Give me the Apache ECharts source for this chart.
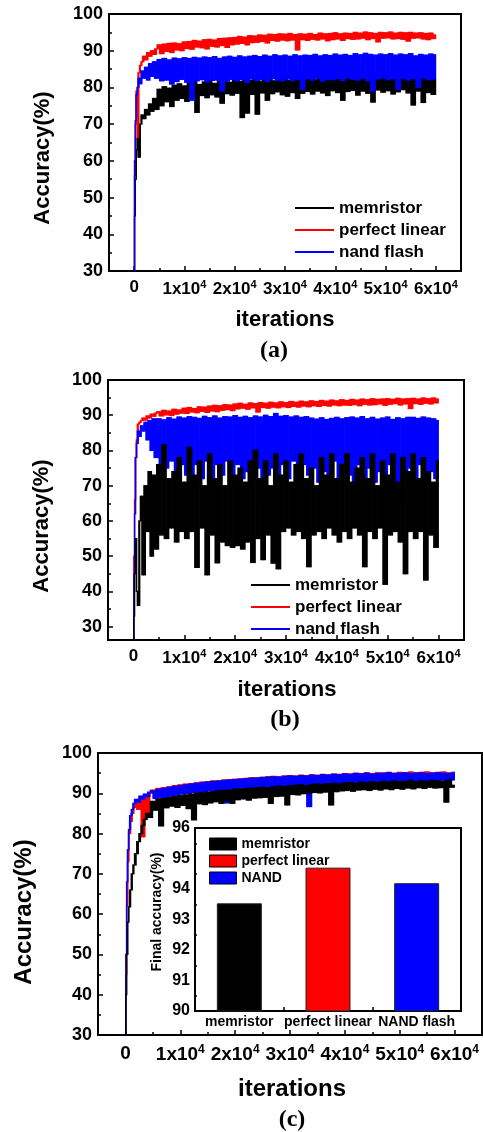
<!DOCTYPE html>
<html>
<head>
<meta charset="utf-8">
<script src="https://cdn.jsdelivr.net/npm/echarts@6/dist/echarts.min.js"></script>
<style>
  html, body { margin: 0; padding: 0; background: #fff; }
  #chart { width: 483px; height: 1132px; }
</style>
</head>
<body>
<div id="chart"></div>
<script>
// iteration sample positions shared by every curve
const iters = [
  0, 150, 300, 500, 700, 1000, 1300, 1600, 2000, 2400, 2800, 3200, 3600, 4000, 4500,
  5000, 5500, 6000, 6500, 7000, 7500, 8000, 8500, 9000, 9500,
  10000, 10500, 11000, 11500, 12000, 12500, 13000, 13500, 14000, 14500,
  15000, 15500, 16000, 16500, 17000, 17500, 18000, 18500, 19000, 19500,
  20000, 20500, 21000, 21500, 22000, 22500, 23000, 23500, 24000, 24500,
  25000, 25500, 26000, 26500, 27000, 27500, 28000, 28500, 29000, 29500,
  30000, 30500, 31000, 31500, 32000, 32500, 33000, 33500, 34000, 34500,
  35000, 35500, 36000, 36500, 37000, 37500, 38000, 38500, 39000, 39500,
  40000, 40500, 41000, 41500, 42000, 42500, 43000, 43500, 44000, 44500,
  45000, 45500, 46000, 46500, 47000, 47500, 48000, 48500, 49000, 49500,
  50000, 50500, 51000, 51500, 52000, 52500, 53000, 53500, 54000, 54500,
  55000, 55500, 56000, 56500, 57000, 57500, 58000, 58500, 59000, 59500,
  60000
]

// panel (a)
const memA = [
  30, 45, 55, 63, 66, 61, 70, 72.5, 71.5, 74, 72.5, 75.5, 73.5, 77, 74,
  79.5, 75.0, 80.2, 76.1, 79.8, 74.8, 80.6, 76.5, 81.0, 77.0,
  80.4, 76.2, 81.2, 77.5, 82.0, 73.2, 80.8, 77.8, 81.5, 77.2,
  82.3, 78.0, 81.1, 77.4, 81.8, 75.7, 82.5, 78.3, 81.4, 77.9,
  82.0, 78.4, 81.6, 71.8, 82.2, 73.0, 81.9, 78.1, 82.4, 72.7,
  81.7, 78.5, 82.6, 76.5, 82.1, 78.3, 81.8, 78.8, 82.5, 78.0,
  82.8, 77.6, 81.9, 78.6, 83.1, 77.0, 82.2, 78.4, 82.7, 78.9,
  83.4, 78.2, 82.1, 79.0, 82.9, 78.5, 83.6, 77.8, 82.4, 79.1,
  84.7, 78.6, 82.8, 76.5, 83.2, 78.9, 82.5, 79.2, 83.8, 77.9,
  84.5, 79.0, 83.0, 78.4, 84.7, 76.0, 83.3, 79.3, 82.8, 78.7,
  83.9, 79.1, 84.2, 78.2, 83.1, 78.8, 83.7, 79.4, 84.0, 78.5,
  83.2, 75.2, 83.9, 79.0, 83.4, 75.9, 84.1, 78.6, 83.0, 78.1,
  82.2
]
const linA = [
  30, 56, 70, 79, 66, 84, 86, 87, 88.5, 87.5, 89.5, 88.5, 90, 89, 90.5,
  91.6, 89.2, 91.8, 89.8, 92.0, 89.5, 92.1, 90.2, 91.9, 90.0,
  92.4, 90.6, 92.5, 90.4, 92.8, 91.0, 92.6, 90.8, 93.0, 90.5,
  93.1, 91.2, 92.9, 91.0, 93.3, 91.4, 93.4, 90.9, 93.5, 91.6,
  93.6, 91.8, 93.9, 92.0, 93.7, 91.6, 94.1, 92.2, 94.0, 92.3,
  94.3, 92.5, 94.2, 92.1, 94.5, 92.8, 94.4, 92.6, 94.6, 92.9,
  94.5, 92.7, 94.7, 92.9, 94.4, 90.2, 94.6, 93.0, 94.5, 92.8,
  94.7, 93.1, 94.4, 92.9, 94.8, 93.2, 94.6, 92.7, 94.7, 93.0,
  94.9, 93.2, 94.6, 92.8, 94.8, 93.3, 94.7, 93.1, 95.0, 93.2,
  94.8, 93.4, 95.1, 93.0, 94.9, 93.3, 94.7, 92.4, 95.0, 93.4,
  94.9, 93.5, 95.1, 93.2, 94.8, 93.3, 95.0, 93.1, 94.9, 92.6,
  95.0, 93.4, 94.8, 93.5, 94.9, 93.2, 94.7, 93.0, 94.8, 93.3,
  94.3
]
const nandA = [
  30, 60, 71, 78, 80, 82.5, 81, 84.5, 82.5, 85.5, 82, 86.5, 83, 87, 82.5,
  87.6, 81.8, 87.9, 82.0, 87.5, 80.9, 88.0, 81.6, 87.8, 82.2,
  88.1, 81.4, 87.9, 76.5, 88.2, 81.8, 88.0, 82.1, 88.3, 81.5,
  88.1, 81.9, 88.4, 82.0, 87.9, 79.0, 88.3, 81.7, 88.5, 82.2,
  88.2, 81.8, 88.6, 82.1, 88.3, 81.4, 88.5, 82.3, 88.7, 81.9,
  88.4, 82.2, 88.8, 81.6, 88.5, 82.4, 88.9, 82.0, 88.6, 81.8,
  88.8, 82.3, 88.5, 81.9, 88.9, 82.2, 88.6, 79.5, 88.8, 82.4,
  88.7, 82.0, 89.0, 82.5, 88.6, 81.7, 88.9, 82.3, 88.7, 82.1,
  89.1, 82.4, 88.8, 81.9, 89.0, 82.6, 88.7, 82.2, 89.2, 82.0,
  88.9, 82.5, 89.3, 81.8, 89.0, 79.0, 88.8, 82.3, 89.1, 82.6,
  88.9, 82.1, 89.2, 82.4, 88.8, 79.5, 89.1, 82.5, 88.9, 82.0,
  89.2, 82.4, 88.6, 80.0, 89.0, 82.6, 88.8, 82.1, 89.1, 82.3,
  88.9
]

// panel (b)
const memB = [
  26, 33, 45, 55, 40, 36, 60, 67, 44.7, 70, 57, 74, 50, 73, 52,
  76, 56, 81.6, 55, 72, 58, 74, 54, 78, 57,
  71, 55, 80.9, 57, 73, 46.8, 77, 58, 70, 44.7,
  79, 56, 72, 48.1, 76, 54, 70, 53, 77, 52.5,
  73, 53, 75, 52, 71, 54, 77, 48.2, 80.1, 55,
  72, 49, 77, 56, 70, 48, 79, 46.4, 73, 57,
  77, 58, 71, 56, 76, 57, 79, 55, 72, 47,
  75, 56, 70, 57, 78, 55, 73, 58, 79, 56,
  72, 54, 76, 57, 79, 55, 71, 58, 75, 56,
  78, 47, 72, 57, 79, 55, 70, 58, 77, 42,
  73, 56, 79, 57, 71, 54, 78, 45, 74, 57,
  79, 55, 72, 57, 78, 43.2, 74, 56, 71, 52.5,
  77
]
const linB = [
  26, 50, 66, 78, 83, 87.5, 88, 88.5, 89.2, 88.6, 89.8, 89.2, 90.3, 89.7, 90.6,
  91.0, 89.8, 91.4, 90.1, 91.2, 89.9, 91.7, 90.3, 91.5, 90.6,
  92.0, 90.5, 92.2, 90.9, 91.9, 90.7, 92.4, 91.1, 92.3, 90.8,
  92.6, 91.2, 92.8, 91.0, 92.7, 91.4, 93.0, 91.6, 92.9, 91.3,
  93.2, 91.8, 93.4, 92.0, 93.1, 91.7, 93.5, 92.1, 93.3, 90.9,
  93.6, 92.2, 93.4, 92.0, 93.7, 92.3, 93.5, 92.1, 93.8, 92.4,
  93.6, 92.2, 93.9, 92.5, 93.7, 92.3, 94.0, 92.6, 93.8, 92.4,
  94.1, 92.7, 93.9, 92.5, 94.2, 92.8, 94.0, 92.6, 94.3, 92.9,
  94.1, 92.7, 94.4, 92.9, 94.2, 92.8, 94.5, 93.0, 94.3, 92.7,
  94.6, 93.1, 94.4, 92.9, 94.7, 93.0, 94.5, 93.2, 94.6, 92.8,
  94.7, 93.1, 94.5, 93.3, 94.8, 92.9, 94.6, 93.2, 94.7, 91.9,
  94.8, 93.3, 94.6, 93.1, 94.9, 93.4, 94.7, 93.2, 94.9, 93.5,
  94.6
]
const nandB = [
  26, 45, 62, 78, 82, 85.5, 84, 87, 85.5, 88, 83, 88.5, 80, 89, 78,
  89.0, 72, 88.7, 75, 89.3, 77, 88.9, 71, 89.5, 76,
  89.2, 73, 89.6, 69.4, 89.4, 76, 89.1, 72, 89.7, 77,
  89.3, 71, 89.8, 76, 89.2, 73, 89.6, 77, 89.5, 70,
  89.9, 76, 89.4, 72, 89.7, 74, 89.3, 71, 89.8, 75,
  89.5, 65.5, 90.0, 73, 89.6, 75, 90.5, 71, 89.7, 76,
  89.9, 72, 89.5, 77, 89.8, 70, 89.4, 76, 89.6, 73,
  89.2, 75, 88.9, 71, 89.3, 74, 88.8, 72, 89.1, 77,
  89.4, 71, 89.0, 76, 89.3, 73, 89.5, 70, 89.2, 76,
  89.6, 72, 89.0, 75, 89.4, 71, 88.9, 74, 89.2, 73,
  89.5, 76, 88.8, 71, 89.3, 64.6, 89.0, 73, 89.4, 75,
  89.4, 72, 89.1, 76, 89.5, 71, 89.2, 74, 89.0, 72,
  88.5
]

// panel (c)
const memC = [
  30, 40, 50, 58, 61.8, 66, 70, 72.2, 75, 78, 80, 82, 83.5, 85, 84,
  88.0, 85.8, 88.5, 81.9, 88.7, 86.4, 89.0, 86.8, 89.2, 86.5,
  89.4, 87.0, 89.6, 86.2, 89.8, 83.4, 90.0, 87.4, 90.1, 87.2,
  90.3, 87.6, 90.4, 87.9, 90.6, 87.5, 90.7, 88.1, 90.8, 87.5,
  91.0, 88.4, 91.1, 88.6, 91.2, 88.3, 91.3, 88.8, 91.4, 88.9,
  91.5, 89.0, 91.4, 87.5, 91.6, 89.2, 91.8, 89.3, 91.7, 87.1,
  91.9, 89.7, 92.0, 89.6, 92.1, 89.9, 91.9, 90.0, 92.2, 90.2,
  92.3, 90.1, 92.2, 90.3, 92.4, 87.1, 92.5, 90.4, 92.3, 90.6,
  92.6, 90.7, 92.7, 90.5, 92.5, 90.8, 92.8, 90.9, 92.6, 90.7,
  92.9, 91.0, 92.7, 90.8, 93.0, 91.1, 92.8, 90.9, 93.1, 91.2,
  92.9, 91.0, 93.0, 91.3, 93.2, 91.1, 92.9, 91.4, 93.1, 91.2,
  93.0, 91.5, 93.2, 91.3, 93.1, 91.4, 93.0, 87.8, 93.3, 91.5,
  92.0
]
const linC = [
  30, 45, 62, 73, 80, 83, 85, 86.5, 87.5, 86, 88.5, 79.2, 89, 84, 90,
  90.8, 89.0, 91.2, 86.5, 91.4, 89.3, 91.6, 89.6, 91.9, 89.9,
  92.1, 90.1, 92.3, 90.0, 92.4, 90.4, 92.6, 90.6, 92.8, 90.3,
  92.9, 90.8, 93.1, 91.0, 93.0, 90.7, 93.3, 91.2, 93.4, 91.1,
  93.5, 91.3, 93.6, 91.5, 93.7, 91.4, 93.9, 91.6, 93.8, 91.7,
  94.0, 91.8, 94.1, 91.6, 94.2, 91.9, 94.1, 92.0, 94.3, 91.8,
  94.4, 92.1, 94.3, 92.2, 94.5, 92.0, 94.4, 92.3, 94.6, 92.2,
  94.5, 92.4, 94.7, 92.3, 94.6, 92.5, 94.8, 92.4, 94.7, 92.6,
  94.9, 92.5, 94.8, 92.7, 95.0, 92.6, 94.9, 92.8, 95.1, 92.7,
  94.9, 92.9, 95.1, 92.8, 95.0, 93.0, 95.2, 92.9, 95.0, 93.1,
  95.2, 93.0, 95.1, 93.2, 95.3, 93.1, 95.1, 93.3, 95.2, 93.2,
  95.3, 93.4, 95.1, 93.3, 95.2, 93.5, 95.3, 93.4, 95.1, 93.5,
  95.0
]
const nandC = [
  30, 50, 68, 76, 81, 84.5, 86, 87.5, 88.5, 87.8, 89.3, 88.6, 89.8, 89.2, 90.3,
  90.6, 88.7, 91.0, 89.0, 91.2, 88.9, 91.5, 89.3, 91.7, 89.5,
  91.9, 89.8, 92.1, 90.0, 92.3, 90.2, 92.5, 90.1, 92.6, 90.4,
  92.8, 90.6, 92.9, 90.5, 93.1, 90.8, 93.2, 87.6, 93.3, 91.0,
  93.4, 91.1, 93.5, 91.3, 93.6, 91.2, 93.7, 91.4, 93.8, 91.5,
  93.9, 91.6, 94.0, 91.5, 94.1, 91.7, 94.0, 91.8, 94.2, 91.7,
  94.3, 91.9, 94.2, 92.0, 94.4, 91.8, 94.3, 86.7, 94.5, 92.1,
  94.4, 92.2, 94.6, 92.1, 94.5, 92.3, 94.7, 92.2, 94.6, 92.4,
  94.8, 92.3, 94.7, 92.5, 94.9, 92.4, 94.8, 92.6, 95.0, 92.5,
  94.8, 92.7, 94.9, 92.6, 95.0, 92.8, 95.1, 92.7, 94.9, 92.9,
  95.0, 92.8, 95.1, 93.0, 94.9, 92.9, 95.0, 93.1, 95.1, 93.0,
  94.9, 93.2, 95.0, 93.1, 95.1, 93.3, 95.0, 93.2, 94.9, 93.3,
  95.2
]

// inset of panel (c)
const barCats = ['memristor', 'perfect linear', 'NAND flash']
const barNames = ['memristor', 'perfect linear', 'NAND']
const barVals = [93.53, 94.70, 94.19]

// tick positions
const xTicks = [0, 10000, 20000, 30000, 40000, 50000, 60000]
const xMinorTicks = [5000, 15000, 25000, 35000, 45000, 55000]
const yTicksB = [30, 40, 50, 60, 70, 80, 90, 100]
const yMinorTicksB = [35, 45, 55, 65, 75, 85, 95]

const SANS = 'Liberation Sans, Arial, sans-serif'
const SERIF = 'Liberation Serif, Times New Roman, serif'
const BLACK = '#000000'
const RED = '#ff0000'
const BLUE = '#0000ff'

function xMain(gi, fs, margin) {
  return {
    gridIndex: gi, type: 'value', min: -5000, max: 65000, position: 'bottom',
    axisLine: { show: true, onZero: false, lineStyle: { color: '#000', width: 2 } },
    axisTick: { show: true, inside: true, length: 5, customValues: xTicks, lineStyle: { color: '#000', width: 1.5 } },
    axisLabel: {
      customValues: xTicks,
      margin: margin,
      formatter: (v) => (v === 0 ? '{b|0}' : '{b|' + v / 10000 + 'x10}{s|4}'),
      rich: {
        b: { fontSize: fs, fontWeight: 'bold', fontFamily: SANS, color: '#000' },
        s: { fontSize: Math.round(fs * 0.62), fontWeight: 'bold', fontFamily: SANS, color: '#000', padding: [0, 0, 9, 0] },
      },
    },
    splitLine: { show: false },
  }
}

function xMinor(gi) {
  return {
    gridIndex: gi, type: 'value', min: -5000, max: 65000, position: 'bottom',
    axisLine: { show: false, onZero: false },
    axisTick: { show: true, inside: true, length: 3, customValues: xMinorTicks, lineStyle: { color: '#000', width: 1.5 } },
    axisLabel: { show: false },
    splitLine: { show: false },
  }
}

function yLabel(fs) {
  return { fontSize: fs, fontWeight: 'bold', fontFamily: SANS, color: '#000', margin: 6 }
}

const tickStyle = { color: '#000', width: 1.5 }
const yLine = { show: true, onZero: false, lineStyle: { color: '#000', width: 2 } }

// dense noisy traces: each step fills the span swept between two samples
function traceItem(params, api) {
  const x1 = api.value(0)
  const v1 = api.value(1)
  const x0 = api.value(2)
  const v0 = api.value(3)
  const top = api.coord([x0, Math.max(v0, v1)])
  const bot = api.coord([x1, Math.min(v0, v1)])
  const cs = params.coordSys
  const shape = echarts.graphic.clipRectByRect(
    { x: top[0] - 0.35, y: top[1] - 0.6, width: bot[0] - top[0] + 0.7, height: bot[1] - top[1] + 1.2 },
    { x: cs.x, y: cs.y, width: cs.width, height: cs.height }
  )
  if (!shape) return null
  return { type: 'rect', shape: shape, style: { fill: api.visual('color') } }
}

function trace(name, color, vals, idx) {
  return {
    name: name, type: 'custom', xAxisIndex: idx, yAxisIndex: idx,
    data: vals.map((v, i) => [iters[i], v, iters[Math.max(i - 1, 0)], vals[Math.max(i - 1, 0)]]),
    encode: { x: 0, y: 1 },
    renderItem: traceItem,
    itemStyle: { color: color },
  }
}

function bar(i) {
  const data = barVals.map((v, j) => (j === i ? v : '-'))
  const colors = [BLACK, RED, BLUE]
  return {
    name: barNames[i], type: 'bar', xAxisIndex: 3, yAxisIndex: 3,
    data: data, barWidth: 45, barGap: '-100%',
    itemStyle: { color: colors[i], borderColor: '#222', borderWidth: 1 },
  }
}

function gtext(x, y, text, size, rotate, family) {
  return {
    type: 'text', x: x, y: y, rotation: rotate ? Math.PI / 2 : 0,
    style: {
      text: text, font: 'bold ' + size + 'px ' + (family || SANS),
      fill: '#000', textAlign: 'center', textVerticalAlign: 'middle',
    },
  }
}

const legendText = { fontSize: 17, fontWeight: 'bold', fontFamily: SANS, color: '#000', lineHeight: 20 }

const option = {
  animation: false,
  backgroundColor: '#ffffff',
  grid: [
    { left: 109, top: 14, width: 352, height: 257, show: true, borderColor: '#000', borderWidth: 2 },
    { left: 108, top: 380, width: 356, height: 260, show: true, borderColor: '#000', borderWidth: 2 },
    { left: 98, top: 753, width: 384, height: 282, show: true, borderColor: '#000', borderWidth: 2 },
    { left: 195, top: 828, width: 266, height: 183, show: true, borderColor: '#000', borderWidth: 2 },
  ],
  xAxis: [
    xMain(0, 17, 8),
    xMain(1, 17, 8),
    xMain(2, 19, 9),
    {
      gridIndex: 3, type: 'category', data: barCats, boundaryGap: true,
      axisLine: { show: true, lineStyle: { color: '#000', width: 2 } },
      axisTick: { show: true, inside: true, length: 4, lineStyle: tickStyle },
      axisLabel: { fontSize: 14, fontWeight: 'bold', fontFamily: SANS, color: '#000', margin: 4, interval: 0 },
    },
    xMinor(0),
    xMinor(1),
    xMinor(2),
  ],
  yAxis: [
    {
      gridIndex: 0, type: 'value', min: 30, max: 100, interval: 10,
      axisLine: yLine,
      axisTick: { inside: true, length: 5, lineStyle: tickStyle },
      minorTick: { show: true, splitNumber: 2, length: 3, lineStyle: tickStyle },
      axisLabel: yLabel(18),
      splitLine: { show: false },
    },
    {
      gridIndex: 1, type: 'value', min: 26.2, max: 100,
      axisLine: yLine,
      axisTick: { inside: true, length: 5, customValues: yTicksB, lineStyle: tickStyle },
      axisLabel: Object.assign(yLabel(18), { customValues: yTicksB }),
      splitLine: { show: false },
    },
    {
      gridIndex: 2, type: 'value', min: 30, max: 100, interval: 10,
      axisLine: yLine,
      axisTick: { inside: true, length: 5, lineStyle: tickStyle },
      minorTick: { show: true, splitNumber: 2, length: 3, lineStyle: tickStyle },
      axisLabel: yLabel(18),
      splitLine: { show: false },
    },
    {
      gridIndex: 3, type: 'value', min: 90, max: 96, interval: 1,
      axisLine: yLine,
      axisTick: { inside: true, length: 4, lineStyle: tickStyle },
      minorTick: { show: true, splitNumber: 2, length: 2, lineStyle: tickStyle },
      axisLabel: Object.assign(yLabel(16), { margin: 5 }),
      splitLine: { show: false },
    },
    {
      gridIndex: 1, type: 'value', min: 26.2, max: 100, position: 'left',
      axisLine: { show: false, onZero: false },
      axisTick: { show: true, inside: true, length: 3, customValues: yMinorTicksB, lineStyle: tickStyle },
      axisLabel: { show: false },
      splitLine: { show: false },
    },
  ],
  legend: [
    {
      left: 290, top: 193, orient: 'vertical', icon: 'rect', itemWidth: 39, itemHeight: 2, itemGap: 2,
      data: ['memristor', 'perfect linear', 'nand flash'], textStyle: legendText,
    },
    {
      left: 246, top: 570, orient: 'vertical', icon: 'rect', itemWidth: 39, itemHeight: 2, itemGap: 2,
      data: ['memristor', 'perfect linear', 'nand flash'], textStyle: legendText,
    },
    {
      left: 204, top: 832, orient: 'vertical', icon: 'rect', itemWidth: 27, itemHeight: 12, itemGap: 3,
      data: ['memristor', 'perfect linear', 'NAND'],
      itemStyle: { borderColor: '#000', borderWidth: 1 },
      textStyle: { fontSize: 14, fontWeight: 'bold', fontFamily: SANS, color: '#000', lineHeight: 14 },
    },
  ],
  series: [
    trace('perfect linear', RED, linA, 0),
    trace('memristor', BLACK, memA, 0),
    trace('nand flash', BLUE, nandA, 0),
    trace('perfect linear', RED, linB, 1),
    trace('nand flash', BLUE, nandB, 1),
    trace('memristor', BLACK, memB, 1),
    trace('perfect linear', RED, linC, 2),
    trace('nand flash', BLUE, nandC, 2),
    trace('memristor', BLACK, memC, 2),
    bar(0), bar(1), bar(2),
  ],
  graphic: [
    gtext(43, 158, 'Accuracy(%)', 22, true),
    gtext(285, 320, 'iterations', 22),
    gtext(274, 351, '(a)', 24, false, SERIF),
    gtext(42, 526, 'Accuracy(%)', 22, true),
    gtext(287, 690, 'iterations', 22),
    gtext(285, 720, '(b)', 24, false, SERIF),
    gtext(24, 912, 'Accuracy(%)', 24, true),
    gtext(292, 1089, 'iterations', 24),
    gtext(292, 1120, '(c)', 24, false, SERIF),
    gtext(157, 912, 'Final accuracy(%)', 14, true),
  ],
}

const chart = echarts.init(document.getElementById('chart'), null, { renderer: 'canvas' })
chart.setOption(option)
</script>
</body>
</html>
